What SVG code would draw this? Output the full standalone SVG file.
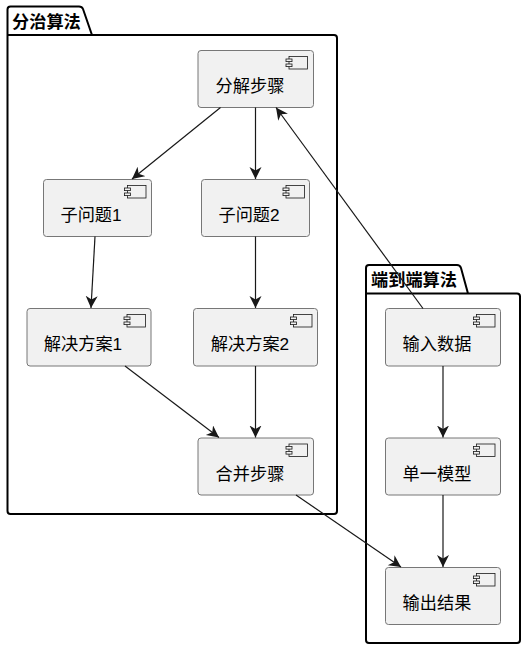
<svg xmlns="http://www.w3.org/2000/svg" width="528" height="652" viewBox="0 0 528 652">
<defs>
<g id="ci"><rect x="3" y="0" width="18.5" height="12.5" fill="#f1f1f1" stroke="#181818" stroke-width="0.8"/><rect x="0" y="2.5" width="6" height="2.6" fill="#f1f1f1" stroke="#181818" stroke-width="0.8"/><rect x="0" y="7.5" width="6" height="2.6" fill="#f1f1f1" stroke="#181818" stroke-width="0.8"/></g>
<marker id="arr" markerUnits="userSpaceOnUse" markerWidth="15" markerHeight="14" refX="12" refY="6" orient="auto"><path d="M0,0 L12,6 L0,12 L3.5,6 Z" fill="#181818"/></marker>
</defs>
<style>
.pk{fill:none;stroke:#000;stroke-width:2}
.nd{fill:#f1f1f1;stroke:#777;stroke-width:1}
.t{font-family:"Liberation Sans","Noto Sans CJK SC",sans-serif;font-size:17.2px;fill:#000;text-anchor:middle}
.pt{font-family:"Liberation Sans","Noto Sans CJK SC",sans-serif;font-size:17.2px;font-weight:bold;fill:#000}
.c{stroke:#181818;stroke-width:1.2;fill:none;marker-end:url(#arr)}
</style>
<rect width="528" height="652" fill="#fff"/>
<g id="pkg-divide"><path class="pk" d="M10.5,6.5 H79 Q82,6.5 83,9 L92,35 H334 Q337,35 337,38 V511 Q337,514 334,514 H10.5 Q7.5,514 7.5,511 V9.5 Q7.5,6.5 10.5,6.5 Z M7.5,35 H92"/><text class="pt" x="12" y="28">分治算法</text></g>
<g id="pkg-e2e"><path class="pk" d="M369,265 H457 Q460,265 461,268 L468,293.5 H517 Q520,293.5 520,296.5 V640 Q520,643 517,643 H369 Q366,643 366,640 V268 Q366,265 369,265 Z M366,293.5 H468"/><text class="pt" x="371" y="286">端到端算法</text></g>
<g id="n-fenjie"><rect class="nd" x="198" y="50.5" width="115.5" height="57" rx="3"/><use href="#ci" x="286" y="56.5"/><text class="t" x="250" y="92">分解步骤</text></g>
<g id="n-zi1"><rect class="nd" x="43.5" y="179.5" width="108" height="57" rx="3"/><use href="#ci" x="124.5" y="185.5"/><text class="t" x="91" y="221">子问题1</text></g>
<g id="n-zi2"><rect class="nd" x="201.5" y="179.5" width="108" height="57" rx="3"/><use href="#ci" x="283" y="185.5"/><text class="t" x="249" y="221">子问题2</text></g>
<g id="n-jie1"><rect class="nd" x="27" y="308.5" width="124" height="57.5" rx="3"/><use href="#ci" x="124" y="314.5"/><text class="t" x="83" y="350">解决方案1</text></g>
<g id="n-jie2"><rect class="nd" x="193.5" y="308.5" width="124" height="57.5" rx="3"/><use href="#ci" x="290.5" y="314.5"/><text class="t" x="250" y="350">解决方案2</text></g>
<g id="n-hebing"><rect class="nd" x="198" y="438" width="115.5" height="57" rx="3"/><use href="#ci" x="286" y="444"/><text class="t" x="250" y="480">合并步骤</text></g>
<g id="n-input"><rect class="nd" x="385.5" y="308.5" width="115" height="57.5" rx="3"/><use href="#ci" x="473.5" y="314.5"/><text class="t" x="437" y="350">输入数据</text></g>
<g id="n-model"><rect class="nd" x="385.5" y="438" width="115" height="57" rx="3"/><use href="#ci" x="473.5" y="444"/><text class="t" x="437" y="480">单一模型</text></g>
<g id="n-output"><rect class="nd" x="385.5" y="567.5" width="115" height="57" rx="3"/><use href="#ci" x="473.5" y="573.5"/><text class="t" x="437" y="609">输出结果</text></g>
<g id="connectors">
<path class="c" d="M220.5,107.5 L132,179"/>
<path class="c" d="M255.5,107.5 V179"/>
<path class="c" d="M95,236.5 L91,308"/>
<path class="c" d="M255.5,236.5 V308"/>
<path class="c" d="M125,366 L219,437.5"/>
<path class="c" d="M255.5,366 V437.5"/>
<path class="c" d="M423,308.5 L276,107.5"/>
<path class="c" d="M443,366 V437.5"/>
<path class="c" d="M443,495 V567"/>
<path class="c" d="M296,495 L401,567"/>
</g>
</svg>
